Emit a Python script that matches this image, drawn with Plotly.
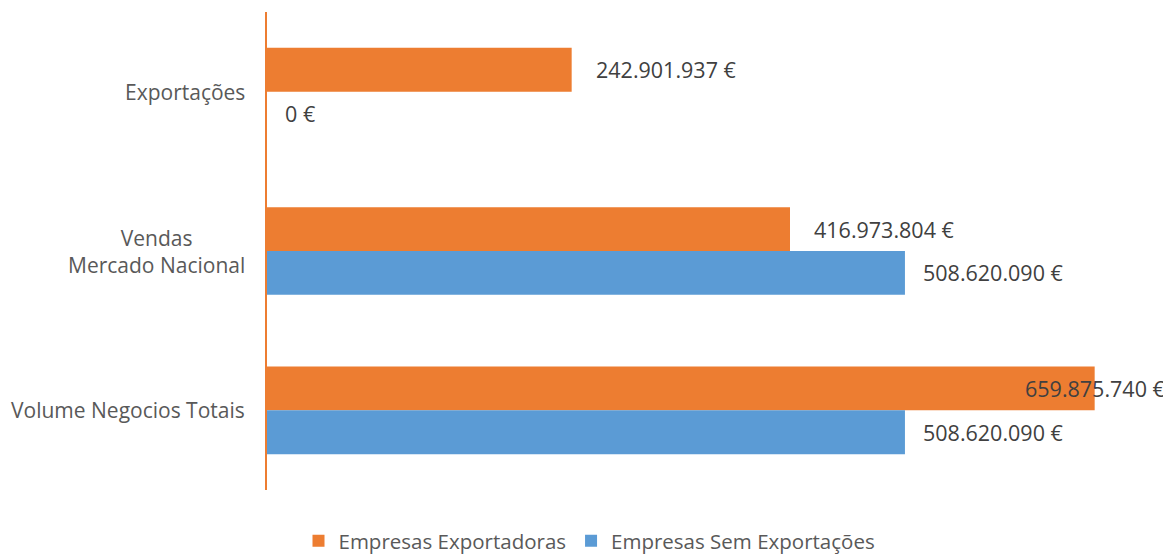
import plotly.graph_objects as go

categories = ["Exportações", "Vendas<br>Mercado Nacional", "Volume Negocios Totais"]
exportadoras = [242901937, 416973804, 659875740]
sem_exportacoes = [0, 508620090, 508620090]
series_names = ["Empresas Exportadoras", "Empresas Sem Exportações"]
colors = ["#ED7D31", "#5B9BD5"]


def fmt(v):
    return f"{v:,.0f}".replace(",", ".") + " €"


FONT = "Open Sans"
BARGAP = 0.45
fig = go.Figure()
fig.add_trace(go.Bar(y=categories, x=exportadoras, orientation="h", name=series_names[0],
                     marker=dict(color=colors[0], line=dict(width=0))))
fig.add_trace(go.Bar(y=categories, x=sem_exportacoes, orientation="h", name=series_names[1],
                     marker=dict(color=colors[1], line=dict(width=0))))

xmax = 700e6
off = (1 - BARGAP) / 4
annotations = []
for i, cat in enumerate(categories):
    annotations.append(dict(xref="paper", yref="y", x=0, y=cat, xanchor="right", xshift=-20,
                            text=cat, showarrow=False, align="center",
                            font=dict(family=FONT, size=21, color="#595959")))
    for vals, shift, yoff in [(exportadoras, 22, -off), (sem_exportacoes, 16, off)]:
        v = vals[i]
        if v > 0.9 * xmax:
            anchor, xs = "center", 0
        else:
            anchor, xs = "left", shift
        annotations.append(dict(xref="x", yref="y", x=v, y=i + yoff, xanchor=anchor, xshift=xs,
                                text=fmt(v), showarrow=False,
                                font=dict(family=FONT, size=21.5, color="#404040")))

fig.update_layout(
    width=1163, height=546,
    margin=dict(l=259, r=26, t=4, b=64),
    paper_bgcolor="white", plot_bgcolor="white",
    barmode="group", bargap=BARGAP, bargroupgap=0,
    showlegend=True,
    legend=dict(orientation="h", x=0.5, xanchor="center", xref="container",
                y=533, yref="container", yanchor="middle",
                font=dict(family=FONT, size=20.5, color="#595959"),
                traceorder="normal"),
    annotations=annotations,
    font=dict(family=FONT),
)
fig.update_layout(legend=dict(y=(546 - 533) / 546))
fig.update_xaxes(range=[0, xmax], showgrid=False, zeroline=False, showticklabels=False,
                 showline=False, ticks="")
fig.update_yaxes(autorange="reversed", showticklabels=False, showgrid=False, zeroline=False,
                 showline=True, linecolor="#ED7D31", linewidth=2, ticks="")

fig.write_html("out.html")
